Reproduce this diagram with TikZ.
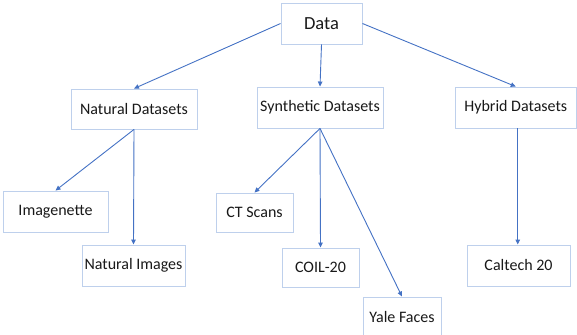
\documentclass[tikz,border=0pt]{standalone}
\usepackage{fontspec}
\setmainfont{Carlito}
\usetikzlibrary{arrows.meta}
\definecolor{boxline}{RGB}{190,208,236}
\definecolor{arrowline}{RGB}{68,114,196}
\tikzset{
  box/.style={draw=boxline, line width=0.9pt, fill=white, inner sep=0pt, anchor=center,
    font=\fontsize{16}{19}\selectfont, text=black!90},
  link/.style={draw=arrowline, line width=0.9pt, -{Triangle[length=5pt,width=4.5pt]}}
}
\begin{document}
\begin{tikzpicture}[x=1pt,y=-1pt]
\useasboundingbox (0,0) rectangle (577,334);
\node[box, minimum width=81pt, minimum height=41pt, font=\fontsize{18.5}{22}\selectfont] (d) at (321.5,23.5) {Data};
\node[box, minimum width=126pt, minimum height=40pt] (nat) at (134,109) {Natural Datasets};
\node[box, minimum width=126pt, minimum height=41pt] (syn) at (320,107.5) {Synthetic Datasets};
\node[box, minimum width=121.5pt, minimum height=41pt] (hyb) at (515.75,107.5) {Hybrid Datasets};
\node[box, minimum width=105pt, minimum height=41pt] (img) at (55.5,211.5) {Imagenette};
\node[box, minimum width=103pt, minimum height=41pt] (nimg) at (133.5,265.5) {Natural Images};
\node[box, minimum width=77pt, minimum height=39pt] (ct) at (254.5,212.5) {CT Scans};
\node[box, minimum width=77pt, minimum height=39pt] (coil) at (320.5,267.5) {COIL-20};
\node[box, minimum width=78pt, minimum height=40pt] (yale) at (402,317) {Yale Faces};
\node[box, minimum width=103pt, minimum height=41pt] (cal) at (518.5,265.5) {Caltech 20};
\coordinate (hs) at ([xshift=2pt]hyb.south);
\draw[link] (d.west) -- (nat.north);
\draw[link] (d.south) -- (syn.north);
\draw[link] (d.east) -- (hyb.north);
\draw[link] (nat.south) -- (img.north);
\draw[link] (nat.south) -- (nimg.north);
\draw[link] (syn.south) -- (ct.north);
\draw[link] (syn.south) -- (coil.north);
\draw[link] (syn.south) -- (yale.north);
\draw[link] (hs) -- (hs |- cal.north);
\end{tikzpicture}
\end{document}
